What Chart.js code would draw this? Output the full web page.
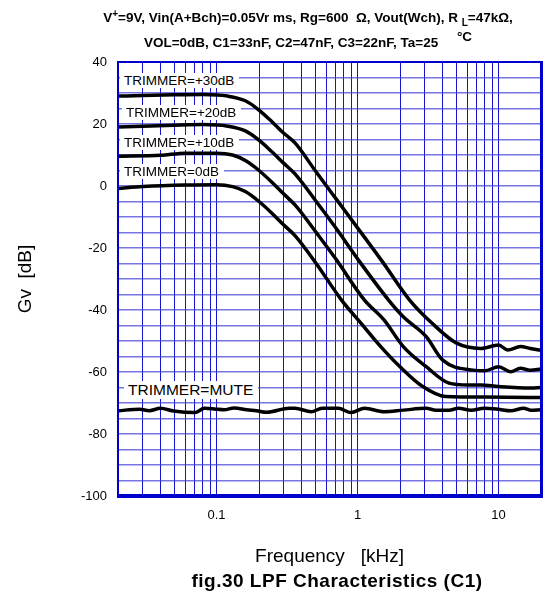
<!DOCTYPE html>
<html>
<head>
<meta charset="utf-8">
<script src="https://cdn.jsdelivr.net/npm/chart.js@4.4.0/dist/chart.umd.min.js"></script>
<style>
body { margin: 0; background: #fff; }
#wrap { position: relative; width: 553px; height: 596px; font-family: Arial, "Liberation Sans", sans-serif; color: #000; }
#chart { position: absolute; left: 0; top: 0; }
.hdr { position: absolute; left: 308px; transform: translateX(-50%); white-space: nowrap; font-weight: bold; font-size: 13.5px; line-height: 15px; }
.hdr sup { font-size: 10px; vertical-align: 5px; }
.hdr sub { font-size: 10px; vertical-align: -4px; }
.lbl { position: absolute; background: #fff; padding: 0 5px 0 4px; font-size: 13.5px; line-height: 15px; white-space: nowrap; }
#caption { position: absolute; left: 337px; top: 570px; transform: translateX(-50%); white-space: nowrap; font-weight: bold; font-size: 19px; letter-spacing: 0.5px; }
</style>
</head>
<body>
<div id="wrap">
  <canvas id="chart" width="553" height="596"></canvas>
  <div class="hdr" style="top:6px">V<sup>+</sup>=9V, Vin(A+Bch)=0.05Vr ms, Rg=600&nbsp; &Omega;, Vout(Wch), R <sub>L</sub>=47k&Omega;,</div>
  <div class="hdr" style="top:35px">VOL=0dB, C1=33nF, C2=47nF, C3=22nF, Ta=25&nbsp;&nbsp;&nbsp;&nbsp; <span style="position:relative;top:-6px">&deg;C</span></div>
  <div class="lbl" style="left:120px;top:73px">TRIMMER=+30dB</div>
  <div class="lbl" style="left:122px;top:105px">TRIMMER=+20dB</div>
  <div class="lbl" style="left:120px;top:135px">TRIMMER=+10dB</div>
  <div class="lbl" style="left:120px;top:164px">TRIMMER=0dB</div>
  <div class="lbl" style="left:124px;top:381px;font-size:15.5px;line-height:18px">TRIMMER=MUTE</div>
  <div id="caption">fig.30 LPF Characteristics (C1)</div>
</div>
<script>
// Frequency [kHz] / gain [dB], one pair of arrays per trimmer setting
const freq30 = [0.02, 0.03, 0.05, 0.08, 0.12, 0.16, 0.2, 0.25, 0.3, 0.36, 0.5, 0.7, 1.0, 1.5, 2.34, 3.38, 5.04, 7.5, 10, 11.6, 14.3, 16.8, 20];
const gain30 = [29.0, 29.2, 29.4, 29.5, 29.0, 27.5, 24.5, 20.5, 17.0, 13.9, 5.0, -4.0, -13.5, -24.4, -36.8, -44.3, -50.7, -52.4, -51.3, -52.9, -51.8, -52.4, -53.0];

const freq20 = [0.02, 0.03, 0.05, 0.08, 0.12, 0.16, 0.2, 0.25, 0.3, 0.36, 0.5, 0.7, 1.0, 1.66, 2.11, 3.07, 4.0, 6.6, 8.0, 10, 12.2, 14.3, 16.8, 20];
const gain20 = [19.0, 19.3, 19.6, 19.8, 19.3, 17.8, 14.8, 10.8, 7.3, 3.9, -4.5, -13.5, -23.5, -36.8, -42.2, -48.6, -56.1, -59.4, -59.6, -58.3, -59.9, -58.8, -59.4, -59.0];

const freq10 = [0.02, 0.04, 0.06, 0.1, 0.13, 0.16, 0.2, 0.25, 0.3, 0.36, 0.5, 0.7, 1.12, 1.54, 2.11, 3.07, 4.45, 6.1, 7.55, 10, 16.8, 20];
const gain10 = [9.6, 9.9, 10.6, 10.6, 10.0, 8.2, 5.0, 1.0, -2.6, -6.1, -14.5, -23.5, -36.8, -43.2, -51.8, -58.3, -63.6, -64.2, -64.2, -64.7, -65.2, -65.0];

const freq0 = [0.02, 0.03, 0.06, 0.1, 0.13, 0.16, 0.2, 0.25, 0.3, 0.36, 0.5, 0.77, 1.06, 1.46, 2.0, 2.9, 4.2, 8.0, 16.8, 20];
const gain0 = [-0.8, -0.2, 0.3, 0.4, -0.2, -1.8, -5.0, -9.0, -12.6, -16.0, -24.5, -36.8, -44.3, -51.8, -58.3, -64.7, -67.9, -68.1, -68.2, -68.2];

const freqMute = [0.02, 0.0285, 0.0333, 0.04, 0.0497, 0.0702, 0.082, 0.0965, 0.113, 0.133, 0.164, 0.192, 0.226, 0.328, 0.36, 0.47, 0.56, 0.73, 0.9, 1.12, 1.54, 2.11, 3.07, 3.6, 4.45, 5.2, 6.4, 7.9, 9.9, 12.2, 15.1, 16.8, 20];
const gainMute = [-72.5, -72.0, -72.5, -71.7, -72.6, -73.1, -71.7, -71.9, -72.2, -71.6, -72.2, -72.5, -73.0, -71.7, -71.7, -72.8, -71.7, -71.7, -73.1, -71.7, -72.8, -72.3, -71.7, -72.3, -72.3, -71.7, -72.3, -71.7, -72.0, -72.5, -71.7, -72.3, -72.2];

// Axis ticks
const xTickValues = [0.02, 0.03, 0.04, 0.05, 0.06, 0.07, 0.08, 0.09,
                     0.1, 0.2, 0.3, 0.4, 0.5, 0.6, 0.7, 0.8, 0.9,
                     1, 2, 3, 4, 5, 6, 7, 8, 9, 10, 20];
const xTickLabels = ['0.1', '1', '10'];
const yMin = -100, yMax = 40, yGridStep = 5, yLabelStep = 20;

function toPoints(freqs, gains) {
    return freqs.map((f, i) => ({ x: f, y: gains[i] }));
}

function curve(freqs, gains) {
    return {
        data: toPoints(freqs, gains),
        showLine: true,
        borderColor: '#000',
        borderWidth: 3.5,
        pointRadius: 0,
        cubicInterpolationMode: 'monotone'
    };
}

// Blue frame round the plot area
const framePlugin = {
    id: 'frame',
    afterDatasetsDraw(chart) {
        const { ctx, chartArea: a } = chart;
        ctx.save();
        ctx.fillStyle = '#0000cc';
        ctx.fillRect(a.left - 1, a.top - 1, a.right - a.left + 2, 2);   // top
        ctx.fillRect(a.left - 1, a.top - 1, 2, a.bottom - a.top + 2);   // left
        ctx.fillRect(a.right - 1, a.top - 1, 3, a.bottom - a.top + 3);  // right
        ctx.fillRect(a.left - 1, a.bottom - 2, a.right - a.left + 3, 4); // bottom
        ctx.restore();
    }
};

const fontFamily = 'Arial, "Liberation Sans", sans-serif';

new Chart(document.getElementById('chart'), {
    type: 'scatter',
    data: {
        datasets: [
            curve(freq30, gain30),
            curve(freq20, gain20),
            curve(freq10, gain10),
            curve(freq0, gain0),
            curve(freqMute, gainMute)
        ]
    },
    options: {
        responsive: false,
        animation: false,
        layout: { padding: { top: 62, right: 3, left: 0, bottom: 0 } },
        plugins: {
            legend: { display: false },
            tooltip: { enabled: false }
        },
        scales: {
            x: {
                type: 'logarithmic',
                min: 0.02,
                max: 20,
                afterBuildTicks: scale => {
                    scale.ticks = xTickValues.map(v => ({ value: v }));
                },
                afterFit: scale => { scale.height = 100; },
                border: { display: false },
                grid: { color: '#1414cc', lineWidth: 1, drawTicks: false },
                ticks: {
                    autoSkip: false,
                    maxRotation: 0,
                    padding: 12,
                    color: '#000',
                    font: { family: fontFamily, size: 13 },
                    callback: value => {
                        const s = String(+value.toFixed(3));
                        return xTickLabels.includes(s) ? s : '';
                    }
                },
                title: {
                    display: true,
                    text: 'Frequency   [kHz]',
                    color: '#000',
                    font: { family: fontFamily, size: 19 },
                    padding: { top: 0, bottom: 28 }
                }
            },
            y: {
                min: yMin,
                max: yMax,
                afterFit: scale => { scale.width = 118; },
                border: { display: false },
                grid: { color: 'rgba(60, 60, 215, 0.7)', lineWidth: 1.5, drawTicks: false },
                ticks: {
                    stepSize: yGridStep,
                    autoSkip: false,
                    padding: 11,
                    color: '#000',
                    font: { family: fontFamily, size: 13 },
                    callback: value => (value % yLabelStep === 0 ? value : '')
                },
                title: {
                    display: true,
                    text: 'Gv  [dB]',
                    color: '#000',
                    font: { family: fontFamily, size: 19 },
                    padding: { top: 14, bottom: 0 }
                }
            }
        }
    },
    plugins: [framePlugin]
});
</script>
</body>
</html>
